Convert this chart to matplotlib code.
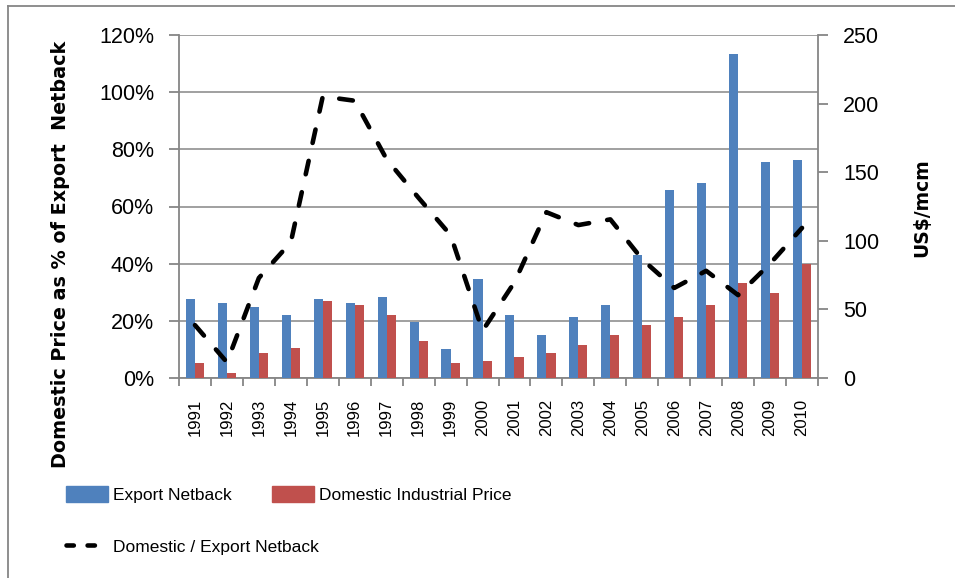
import numpy as np
import matplotlib
matplotlib.use('Agg')
import matplotlib.pyplot as plt
from matplotlib.lines import Line2D
from matplotlib.patches import Patch
from matplotlib.ticker import FuncFormatter

years = [str(y) for y in range(1991, 2011)]
# US$/mcm (right axis)
export_netback = [57.3, 54.4, 51.5, 45.7, 57.3, 54.4, 58.8, 41.0, 20.9, 71.9,
                  45.7, 31.1, 44.2, 53.0, 89.4, 137.3, 141.9, 236.4, 157.7, 159.1]
domestic_price = [10.7, 3.4, 18.0, 22.1, 55.9, 53.0, 45.7, 26.7, 10.7, 12.1,
                  15.0, 18.0, 23.8, 31.1, 38.4, 44.2, 53.0, 69.0, 61.7, 83.3]
# ratio (left axis)
ratio = [0.185, 0.055, 0.35, 0.475, 0.985, 0.97, 0.765, 0.63, 0.50, 0.165,
         0.335, 0.58, 0.535, 0.555, 0.415, 0.315, 0.375, 0.29, 0.40, 0.525]

BLUE = '#4F81BD'
RED = '#C0504D'
GRAY = '#868686'
tickfont = 'Liberation Sans'

fig = plt.figure(figsize=(9.55, 5.78), dpi=100)
ax = fig.add_axes([179/955, 1-378/578, (818-179)/955, (378-35)/578])
ax2 = ax.twinx()
ax3 = ax.twinx()

x = np.arange(len(years))
w = 0.285

# gridlines on the bottom axes
ax.set_ylim(0, 1.2)
ax.set_yticks(np.arange(0, 1.21, 0.2))
ax.yaxis.set_major_formatter(FuncFormatter(lambda v, p: '%d%%' % round(v*100)))
ax.grid(axis='y', color=GRAY, linewidth=1.1)
ax.set_axisbelow(True)
ax.set_xlim(-0.5, len(years)-0.5)

# bars on the right axis
ax2.bar(x - w/2, export_netback, w, color=BLUE, zorder=2)
ax2.bar(x + w/2, domestic_price, w, color=RED, zorder=2)
ax2.set_ylim(0, 250)
ax2.set_yticks(np.arange(0, 251, 50))

# ratio line on top
ax3.plot(x, ratio, color='black', linewidth=3.3, dashes=(3.0, 4.0),
         dash_capstyle='round', zorder=3)
ax3.set_ylim(0, 1.2)
ax3.set_yticks([])
ax3.set_xlim(-0.5, len(years)-0.5)

for a in (ax, ax2, ax3):
    for s in a.spines.values():
        s.set_visible(False)
ax.spines['left'].set_visible(True)
ax.spines['bottom'].set_visible(True)
ax2.spines['right'].set_visible(True)
for s in (ax.spines['left'], ax.spines['bottom'], ax2.spines['right']):
    s.set_color(GRAY)
    s.set_linewidth(1.3)

ax.set_xticks(np.arange(-0.5, len(years)), minor=False)
ax.set_xticklabels([])
ax.set_xticks(x, minor=True)
ax.set_xticklabels(years, minor=True, rotation=90, fontsize=12, family=tickfont)
ax.tick_params(axis='x', which='major', direction='out', length=6, width=1.3, color=GRAY)
ax.tick_params(axis='x', which='minor', length=0, pad=15)
ax.tick_params(axis='y', direction='out', length=7, width=1.3, color=GRAY, pad=11,
               labelsize=15.5)
ax2.tick_params(axis='y', direction='out', length=7, width=1.3, color=GRAY, pad=11,
                labelsize=15.5)
for lab in ax.get_yticklabels() + ax2.get_yticklabels():
    lab.set_family(tickfont)

fig.text(61/955, 1-254/578, 'Domestic Price as % of Export  Netback', rotation=90,
         ha='center', va='center', fontsize=13.8, fontweight='bold')
fig.text(922/955, 1-208/578, 'US$/mcm', rotation=90, ha='center', va='center',
         fontsize=13.5, fontweight='bold')

legprops = dict(frameon=False, borderpad=0, borderaxespad=0, handlelength=2.4,
                handleheight=1.05, handletextpad=0.3, labelspacing=2.0,
                prop={'family': tickfont, 'size': 12.5})
h_blue = Patch(color=BLUE, label='Export Netback')
h_line = Line2D([], [], color='black', linewidth=3.3, dashes=(1.6, 3.0),
                dash_capstyle='round', label='Domestic / Export Netback')
h_red = Patch(color=RED, label='Domestic Industrial Price')
leg1 = fig.legend(handles=[h_blue, h_line], loc='upper left',
                  bbox_to_anchor=(66/955, 1-486/578), **legprops)
leg2 = fig.legend(handles=[h_red], loc='upper left',
                  bbox_to_anchor=(272/955, 1-486/578), **legprops)

# chart area border
fig.add_artist(Line2D([8/955, 1.0], [1-6/578, 1-6/578], color=GRAY, linewidth=1.3))
fig.add_artist(Line2D([8/955, 8/955], [1-6/578, 0.0], color=GRAY, linewidth=1.3))

fig.savefig('out.png', dpi=100)
